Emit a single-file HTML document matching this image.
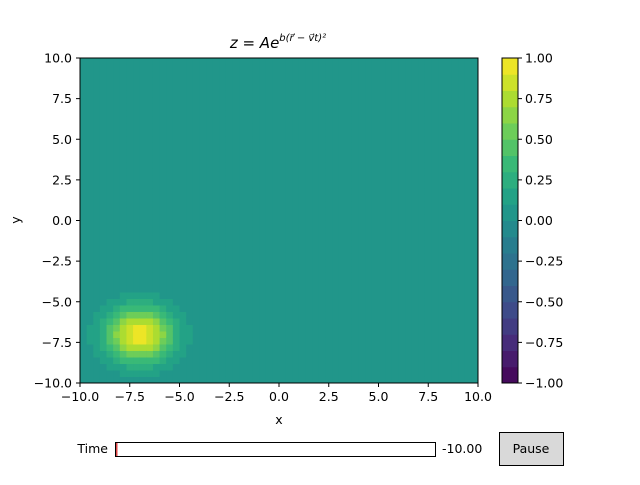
<!DOCTYPE html>
<html><head><meta charset="utf-8">
<style>
body{margin:0;background:#fff;width:640px;height:480px;overflow:hidden;font-family:"Liberation Sans","DejaVu Sans",sans-serif;}
</style></head>
<body>
<svg id="chart" width="640" height="480" xmlns="http://www.w3.org/2000/svg" font-family="DejaVu Sans, Liberation Sans, sans-serif" font-size="12.5">
<rect width="640" height="480" fill="#fff"/>
<g id="heat"></g>
<rect x="80" y="58" width="398" height="325" fill="none" stroke="#000" stroke-width="1"/>
<g id="axes"></g>
<text x="278" y="48" text-anchor="middle" font-size="15" font-style="italic">z = Ae<tspan font-size="10" dy="-7">b(r⃗ − v⃗t)²</tspan></text>
<text x="279" y="424" text-anchor="middle">x</text>
<text x="20" y="220" text-anchor="middle" transform="rotate(-90 20 220)">y</text>
<g id="cbar"></g>
<text x="108" y="453" text-anchor="end">Time</text>
<rect x="115.5" y="442.5" width="320" height="14" fill="#fff" stroke="#000"/>
<rect x="116" y="443" width="1.5" height="13" fill="#d44"/>
<text x="442" y="453">-10.00</text>
<g>
<rect x="499.5" y="432.5" width="64" height="33" fill="#d9d9d9" stroke="#000"/>
<text x="531" y="453" text-anchor="middle">Pause</text>
</g>
</svg>
<script>
const xTicks=[-10,-7.5,-5,-2.5,0,2.5,5,7.5,10];
const yTicks=[-10,-7.5,-5,-2.5,0,2.5,5,7.5,10];
const cTicks=[-1,-0.75,-0.5,-0.25,0,0.25,0.5,0.75,1];
const amplitude=[0.97];
const center=[-7,-7];
const widthB=[0.35];
const gridN=[60,50];
const viridis=[[68,1,84],[72,40,120],[62,74,137],[49,104,142],[38,130,142],[31,158,137],[53,183,121],[110,206,88],[181,222,43],[253,231,37]];
const NS="http://www.w3.org/2000/svg";
const svg=document.getElementById('chart');
const X0=80,X1=478,Y0=383,Y1=58,CX=502,CX1=518;
const sx=v=>X0+(v+10)/20*(X1-X0);
const sy=v=>Y0-(v+10)/20*(Y0-Y1);
const cy=v=>Y0-(v+1)/2*(Y0-Y1);
function cmap(t){t=Math.max(0,Math.min(1,t));const p=t*(viridis.length-1),i=Math.min(Math.floor(p),viridis.length-2),f=p-i;const a=viridis[i],b=viridis[i+1];return `rgb(${a.map((c,k)=>Math.round(c+(b[k]-c)*f)).join(',')})`;}
function levelColor(v){let k=Math.floor((v+1)/0.1);k=Math.max(0,Math.min(19,k));return cmap((k+0.5)/20);}
function mk(tag,attrs,parent){const e=document.createElementNS(NS,tag);for(const k in attrs)e.setAttribute(k,attrs[k]);(parent||svg).appendChild(e);return e;}
const heat=document.getElementById('heat');
const nx=gridN[0],ny=gridN[1];
for(let i=0;i<nx;i++){for(let j=0;j<ny;j++){
 const xa=-10+20*i/nx,xb=-10+20*(i+1)/nx,ya=-10+20*j/ny,yb=-10+20*(j+1)/ny;
 const xc=(xa+xb)/2,yc=(ya+yb)/2;
 const z=amplitude[0]*Math.exp(-widthB[0]*((xc-center[0])**2+(yc-center[1])**2));
 const r=mk('rect',{x:sx(xa),y:sy(yb),width:sx(xb)-sx(xa)+0.5,height:sy(ya)-sy(yb)+0.5,fill:levelColor(z)},heat);
 
 
}}
const axes=document.getElementById('axes');
xTicks.forEach(v=>{const x=sx(v);mk('line',{x1:x,x2:x,y1:383,y2:387,stroke:'#000'},axes);
 const t=mk('text',{x:x,y:401,'text-anchor':'middle'},axes);t.textContent=v.toFixed(1).replace('-','−');
 });
yTicks.forEach(v=>{const y=sy(v);mk('line',{x1:76,x2:80,y1:y,y2:y,stroke:'#000'},axes);
 const t=mk('text',{x:72,y:y+4.5,'text-anchor':'end'},axes);t.textContent=v.toFixed(1).replace('-','−');
 });
const cb=document.getElementById('cbar');
for(let k=0;k<20;k++){const a=-1+k*0.1,b=a+0.1;
 const r=mk('rect',{x:CX,y:cy(b),width:CX1-CX,height:cy(a)-cy(b)+0.5,fill:cmap((k+0.5)/20)},cb);
 }
mk('rect',{x:CX,y:58,width:CX1-CX,height:325,fill:'none',stroke:'#000'},cb);
cTicks.forEach(v=>{const y=cy(v);mk('line',{x1:CX1,x2:CX1+4,y1:y,y2:y,stroke:'#000'},cb);
 const t=mk('text',{x:525,y:y+4.5},cb);t.textContent=v.toFixed(2).replace('-','−');
 });
</script>
</body></html>
